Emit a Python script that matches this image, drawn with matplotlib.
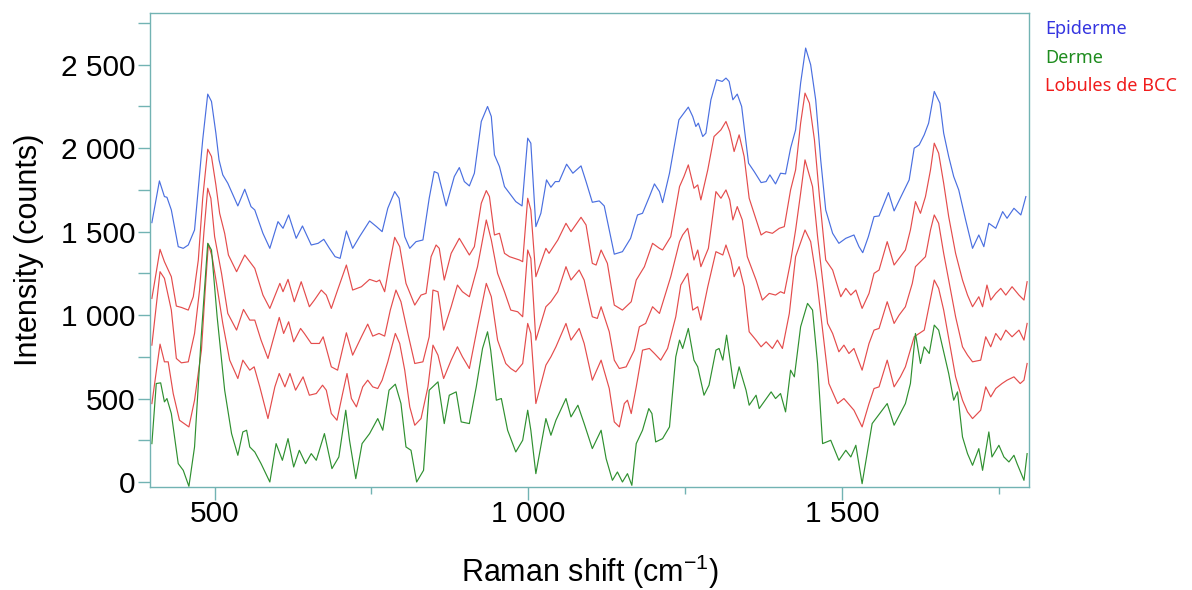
import matplotlib
matplotlib.use("Agg")
import matplotlib.pyplot as plt
from matplotlib.ticker import MultipleLocator, FuncFormatter
import numpy as np

# Raman shift (cm-1), intensity (counts)
epiderme = [
    (400, 1554), (412, 1804), (420, 1710), (424, 1706), (431, 1630), (442, 1410), (450, 1400),
    (458, 1420), (468, 1510), (481, 2050), (489, 2324), (495, 2280), (502, 2090), (507, 1930),
    (513, 1840), (521, 1790), (537, 1654), (548, 1754), (558, 1650), (564, 1630), (577, 1490),
    (588, 1400), (601, 1560), (609, 1520), (618, 1600), (630, 1460), (640, 1534), (654, 1420),
    (665, 1430), (674, 1454), (683, 1400), (692, 1350), (700, 1340), (710, 1504), (720, 1400),
    (731, 1470), (747, 1564), (758, 1530), (767, 1500), (776, 1640), (787, 1740), (794, 1700),
    (803, 1470), (811, 1400), (821, 1440), (832, 1450), (842, 1700), (850, 1860), (856, 1850),
    (869, 1654), (882, 1830), (890, 1884), (898, 1800), (906, 1774), (914, 1850), (925, 2160),
    (935, 2250), (941, 2190), (946, 1960), (954, 1890), (962, 1770), (980, 1680), (990, 1654),
    (999, 2060), (1004, 2030), (1012, 1530), (1020, 1610), (1029, 1810), (1036, 1766),
    (1043, 1800), (1049, 1800), (1061, 1904), (1071, 1850), (1084, 1894), (1092, 1800),
    (1102, 1676), (1113, 1684), (1121, 1654), (1129, 1510), (1137, 1365), (1150, 1380),
    (1163, 1460), (1174, 1600), (1182, 1610), (1193, 1710), (1201, 1786), (1209, 1740),
    (1214, 1674), (1225, 1850), (1240, 2170), (1248, 2210), (1255, 2246), (1262, 2190),
    (1267, 2130), (1271, 2150), (1278, 2070), (1283, 2090), (1291, 2290), (1300, 2410),
    (1309, 2400), (1315, 2420), (1320, 2400), (1326, 2290), (1333, 2324), (1340, 2250),
    (1351, 1910), (1360, 1860), (1371, 1794), (1379, 1800), (1385, 1840), (1394, 1786),
    (1402, 1850), (1410, 1846), (1418, 2000), (1426, 2110), (1434, 2390), (1442, 2600),
    (1450, 2500), (1458, 2290), (1466, 1930), (1474, 1630), (1485, 1490), (1495, 1430),
    (1506, 1460), (1519, 1480), (1527, 1410), (1533, 1374), (1542, 1470), (1551, 1590),
    (1559, 1594), (1574, 1734), (1583, 1624), (1594, 1710), (1607, 1810), (1615, 2000),
    (1623, 2020), (1631, 2080), (1638, 2150), (1647, 2340), (1656, 2270), (1662, 2090),
    (1670, 1950), (1678, 1830), (1686, 1750), (1697, 1570), (1708, 1400), (1718, 1480),
    (1726, 1410), (1731, 1500), (1734, 1550), (1745, 1520), (1756, 1620), (1763, 1580),
    (1774, 1640), (1785, 1600), (1788, 1640), (1793, 1710),
]

bcc_1 = [
    (400, 1100), (413, 1394), (420, 1320), (431, 1230), (439, 1054), (447, 1046), (458, 1030),
    (466, 1110), (474, 1330), (481, 1700), (489, 1994), (495, 1950), (502, 1780), (508, 1610),
    (516, 1490), (522, 1360), (535, 1260), (548, 1360), (556, 1320), (564, 1280), (577, 1120),
    (588, 1040), (604, 1190), (609, 1140), (617, 1214), (627, 1080), (638, 1200), (651, 1050),
    (659, 1090), (670, 1150), (678, 1120), (686, 1040), (696, 1150), (710, 1300), (720, 1150),
    (734, 1170), (747, 1214), (758, 1200), (763, 1210), (771, 1140), (779, 1310), (787, 1466),
    (795, 1410), (805, 1190), (819, 1060), (829, 1120), (837, 1130), (845, 1350), (853, 1420),
    (858, 1400), (866, 1210), (877, 1370), (890, 1460), (898, 1410), (906, 1360), (914, 1410),
    (925, 1670), (933, 1746), (938, 1710), (946, 1480), (954, 1490), (962, 1370), (970, 1350),
    (986, 1330), (991, 1320), (999, 1700), (1004, 1630), (1012, 1230), (1028, 1400),
    (1033, 1370), (1047, 1450), (1060, 1550), (1068, 1500), (1084, 1586), (1092, 1540),
    (1102, 1310), (1108, 1300), (1116, 1390), (1126, 1310), (1137, 1060), (1150, 1030),
    (1164, 1080), (1172, 1210), (1185, 1290), (1198, 1430), (1209, 1400), (1214, 1390),
    (1227, 1470), (1241, 1770), (1248, 1830), (1255, 1900), (1264, 1760), (1270, 1780),
    (1275, 1690), (1286, 1870), (1296, 2070), (1307, 2110), (1315, 2160), (1321, 2100),
    (1328, 1980), (1336, 2080), (1344, 1950), (1352, 1700), (1371, 1480), (1379, 1500),
    (1389, 1490), (1400, 1520), (1408, 1530), (1418, 1750), (1426, 1870), (1434, 2150),
    (1441, 2330), (1448, 2270), (1456, 2050), (1464, 1710), (1474, 1330), (1485, 1270),
    (1498, 1110), (1506, 1160), (1514, 1120), (1522, 1150), (1532, 1040), (1543, 1130),
    (1551, 1250), (1559, 1270), (1572, 1440), (1583, 1300), (1601, 1390), (1609, 1510),
    (1617, 1680), (1625, 1610), (1633, 1710), (1641, 1870), (1647, 2030), (1654, 1970),
    (1662, 1790), (1670, 1590), (1681, 1370), (1692, 1210), (1700, 1120), (1708, 1050),
    (1718, 1110), (1724, 1050), (1731, 1180), (1737, 1090), (1745, 1130), (1753, 1160),
    (1761, 1120), (1771, 1170), (1782, 1120), (1790, 1090), (1795, 1200),
]

bcc_2 = [
    (400, 820), (413, 1260), (420, 1220), (431, 1030), (439, 740), (447, 714), (458, 720),
    (468, 890), (476, 1150), (483, 1500), (489, 1760), (494, 1700), (500, 1470), (511, 1250),
    (521, 1010), (535, 910), (546, 1034), (556, 970), (564, 970), (574, 850), (585, 740),
    (603, 986), (610, 890), (618, 960), (626, 840), (637, 920), (643, 890), (654, 830),
    (667, 830), (673, 870), (686, 690), (696, 670), (710, 894), (720, 760), (734, 870),
    (744, 946), (752, 874), (762, 890), (771, 874), (780, 1030), (789, 1150), (797, 1080),
    (808, 890), (819, 710), (832, 720), (842, 870), (848, 1150), (856, 1140), (865, 910),
    (877, 1050), (887, 1180), (895, 1140), (906, 1110), (919, 1290), (933, 1570), (941, 1450),
    (951, 1250), (962, 1140), (972, 1030), (983, 1020), (991, 990), (999, 1390), (1004, 1340),
    (1012, 850), (1028, 1050), (1036, 1080), (1047, 1140), (1060, 1290), (1068, 1210),
    (1081, 1270), (1089, 1210), (1102, 990), (1110, 980), (1116, 1050), (1129, 900),
    (1137, 730), (1145, 680), (1156, 690), (1169, 790), (1177, 930), (1187, 950), (1198, 1050),
    (1209, 1010), (1227, 1230), (1241, 1440), (1246, 1480), (1254, 1520), (1264, 1330),
    (1270, 1390), (1275, 1290), (1287, 1400), (1299, 1740), (1307, 1700), (1315, 1750),
    (1321, 1690), (1326, 1570), (1333, 1650), (1341, 1570), (1349, 1350), (1363, 1210),
    (1373, 1090), (1384, 1130), (1394, 1120), (1402, 1140), (1408, 1130), (1418, 1320),
    (1426, 1510), (1434, 1730), (1441, 1930), (1453, 1770), (1461, 1470), (1477, 950),
    (1485, 890), (1495, 780), (1503, 820), (1511, 770), (1519, 800), (1532, 670), (1543, 830),
    (1551, 910), (1559, 920), (1572, 1080), (1583, 950), (1591, 1000), (1601, 1050),
    (1612, 1190), (1617, 1290), (1633, 1350), (1641, 1510), (1647, 1600), (1654, 1550),
    (1662, 1370), (1681, 990), (1692, 810), (1700, 760), (1708, 720), (1721, 730),
    (1729, 870), (1737, 810), (1745, 890), (1753, 850), (1761, 910), (1771, 870), (1782, 910),
    (1790, 850), (1795, 950),
]

bcc_3 = [
    (400, 470), (413, 826), (420, 720), (426, 720), (434, 530), (444, 370), (459, 330),
    (468, 490), (479, 790), (485, 1150), (490, 1426), (496, 1350), (503, 1190), (513, 950),
    (524, 730), (537, 620), (545, 730), (556, 670), (563, 690), (572, 570), (585, 380),
    (596, 570), (603, 650), (612, 570), (620, 650), (629, 550), (641, 630), (651, 520),
    (662, 530), (672, 580), (678, 550), (686, 410), (695, 370), (704, 530), (711, 650),
    (718, 500), (726, 450), (736, 570), (744, 610), (752, 570), (760, 560), (767, 610),
    (776, 720), (788, 890), (795, 830), (803, 670), (811, 450), (819, 340), (829, 380),
    (840, 570), (848, 820), (856, 760), (865, 620), (877, 730), (887, 810), (895, 750),
    (906, 680), (919, 930), (933, 1190), (941, 1110), (951, 850), (964, 710), (972, 680),
    (980, 660), (991, 710), (999, 950), (1004, 890), (1012, 470), (1028, 700), (1036, 750),
    (1044, 810), (1060, 950), (1068, 850), (1081, 920), (1089, 830), (1102, 610), (1116, 730),
    (1129, 560), (1137, 360), (1145, 330), (1153, 470), (1158, 490), (1164, 410), (1172, 570),
    (1182, 790), (1193, 800), (1201, 770), (1211, 730), (1222, 800), (1235, 990), (1243, 1180),
    (1254, 1250), (1262, 1030), (1270, 1050), (1275, 970), (1286, 1170), (1299, 1380),
    (1310, 1360), (1315, 1420), (1323, 1330), (1328, 1230), (1336, 1290), (1344, 1170),
    (1352, 900), (1363, 850), (1371, 810), (1379, 840), (1389, 800), (1397, 850), (1405, 800),
    (1416, 1010), (1426, 1350), (1441, 1510), (1450, 1440), (1460, 1200), (1479, 590),
    (1493, 470), (1503, 500), (1519, 430), (1532, 330), (1543, 470), (1551, 560), (1559, 570),
    (1572, 730), (1583, 570), (1593, 630), (1601, 690), (1615, 870), (1631, 910), (1647, 1210),
    (1654, 1160), (1662, 1030), (1681, 630), (1692, 490), (1700, 420), (1708, 380),
    (1721, 430), (1729, 570), (1737, 510), (1745, 560), (1755, 590), (1763, 610), (1774, 630),
    (1784, 590), (1790, 610), (1795, 710),
]

derme = [
    (400, 230), (407, 590), (414, 594), (420, 480), (424, 500), (431, 410), (442, 110),
    (450, 70), (459, -26), (468, 210), (479, 890), (489, 1430), (495, 1390), (504, 990),
    (516, 550), (527, 290), (537, 160), (545, 300), (551, 310), (556, 210), (564, 180),
    (574, 110), (588, 0), (598, 230), (608, 130), (617, 260), (626, 90), (635, 190), (645, 110),
    (654, 170), (662, 130), (675, 290), (687, 80), (698, 150), (709, 430), (715, 250),
    (725, 20), (735, 230), (747, 290), (760, 380), (768, 310), (778, 550), (788, 586),
    (797, 470), (805, 210), (813, 190), (822, 0), (833, 70), (842, 550), (856, 600), (866, 350),
    (874, 520), (885, 540), (893, 360), (906, 350), (917, 570), (927, 800), (935, 900),
    (940, 790), (949, 490), (957, 500), (967, 310), (980, 180), (991, 250), (999, 430),
    (1004, 310), (1012, 50), (1028, 380), (1036, 280), (1044, 370), (1060, 500), (1068, 390),
    (1079, 460), (1089, 350), (1102, 200), (1116, 310), (1124, 140), (1134, 10), (1142, 60),
    (1150, 0), (1158, 50), (1165, -20), (1172, 230), (1182, 310), (1192, 440), (1197, 410),
    (1203, 240), (1214, 260), (1225, 330), (1235, 750), (1241, 850), (1246, 800), (1255, 920),
    (1264, 730), (1270, 690), (1280, 520), (1288, 580), (1299, 790), (1304, 800), (1310, 730),
    (1316, 880), (1328, 560), (1336, 690), (1347, 550), (1352, 460), (1363, 520), (1368, 440),
    (1387, 540), (1394, 500), (1402, 530), (1410, 420), (1418, 670), (1424, 630), (1434, 930),
    (1445, 1070), (1453, 1030), (1461, 710), (1469, 230), (1482, 250), (1495, 130),
    (1506, 190), (1514, 150), (1522, 220), (1532, -10), (1548, 350), (1572, 470), (1583, 340),
    (1601, 470), (1609, 590), (1617, 890), (1625, 710), (1631, 810), (1639, 770), (1647, 940),
    (1654, 910), (1662, 780), (1670, 650), (1678, 490), (1684, 540), (1692, 270), (1700, 170),
    (1708, 100), (1718, 200), (1724, 70), (1734, 300), (1739, 150), (1750, 220), (1758, 150),
    (1766, 120), (1774, 160), (1779, 110), (1790, 10), (1795, 170),
]

labels = ["Epiderme", "Derme", "Lobules de BCC"]
label_colors = ["#3535e0", "#1e8c1e", "#f01c1c"]

BLUE = "#4a6fe0"
RED = "#e44c4c"
GREEN = "#2f9030"
FRAME = "#72b3b3"

plt.rcParams["font.family"] = ["Liberation Sans", "DejaVu Sans"]
plt.rcParams["mathtext.fontset"] = "custom"
plt.rcParams["mathtext.rm"] = "Liberation Sans"
plt.rcParams["mathtext.it"] = "Liberation Sans"
plt.rcParams["mathtext.default"] = "regular"

fig = plt.figure(figsize=(11.92, 5.90), dpi=100)
ax = fig.add_axes([150 / 1192, 103 / 590, 879 / 1192, 474 / 590])

for series, col in [(epiderme, BLUE), (bcc_1, RED), (bcc_2, RED), (bcc_3, RED), (derme, GREEN)]:
    xs, ys = np.array(series).T
    ax.plot(xs, ys, color=col, lw=0.85)

ax.set_xlim(397, 1798)
ax.set_ylim(-30, 2810)

ax.xaxis.set_major_locator(MultipleLocator(500))
ax.xaxis.set_minor_locator(MultipleLocator(250))
ax.yaxis.set_major_locator(MultipleLocator(500))
ax.yaxis.set_minor_locator(MultipleLocator(250))

fmt = FuncFormatter(lambda v, p: f"{int(v):,}".replace(",", " "))
ax.xaxis.set_major_formatter(fmt)
ax.yaxis.set_major_formatter(fmt)

for s in ax.spines.values():
    s.set_color(FRAME)
    s.set_linewidth(1.0)

ax.tick_params(axis="x", which="major", length=9.5, width=1, color=FRAME, pad=0, labelsize=21.5)
ax.tick_params(axis="x", which="minor", length=5, width=1, color=FRAME)
ax.tick_params(axis="y", which="both", length=8.5, width=1, color=FRAME, pad=2, labelsize=21.5)

ax.set_xlabel("Raman shift (cm$^{-1}$)", fontsize=22, labelpad=18)
ax.set_ylabel("Intensity (counts)", fontsize=22, labelpad=12)

for i, (lab, c) in enumerate(zip(labels, label_colors)):
    fig.text(1045 / 1192, 1 - (34.5 + 28.3 * i) / 590, lab, color=c,
             fontsize=13, family=["Noto Sans", "DejaVu Sans"], va="baseline", ha="left")

fig.savefig("out.png", dpi=100)
